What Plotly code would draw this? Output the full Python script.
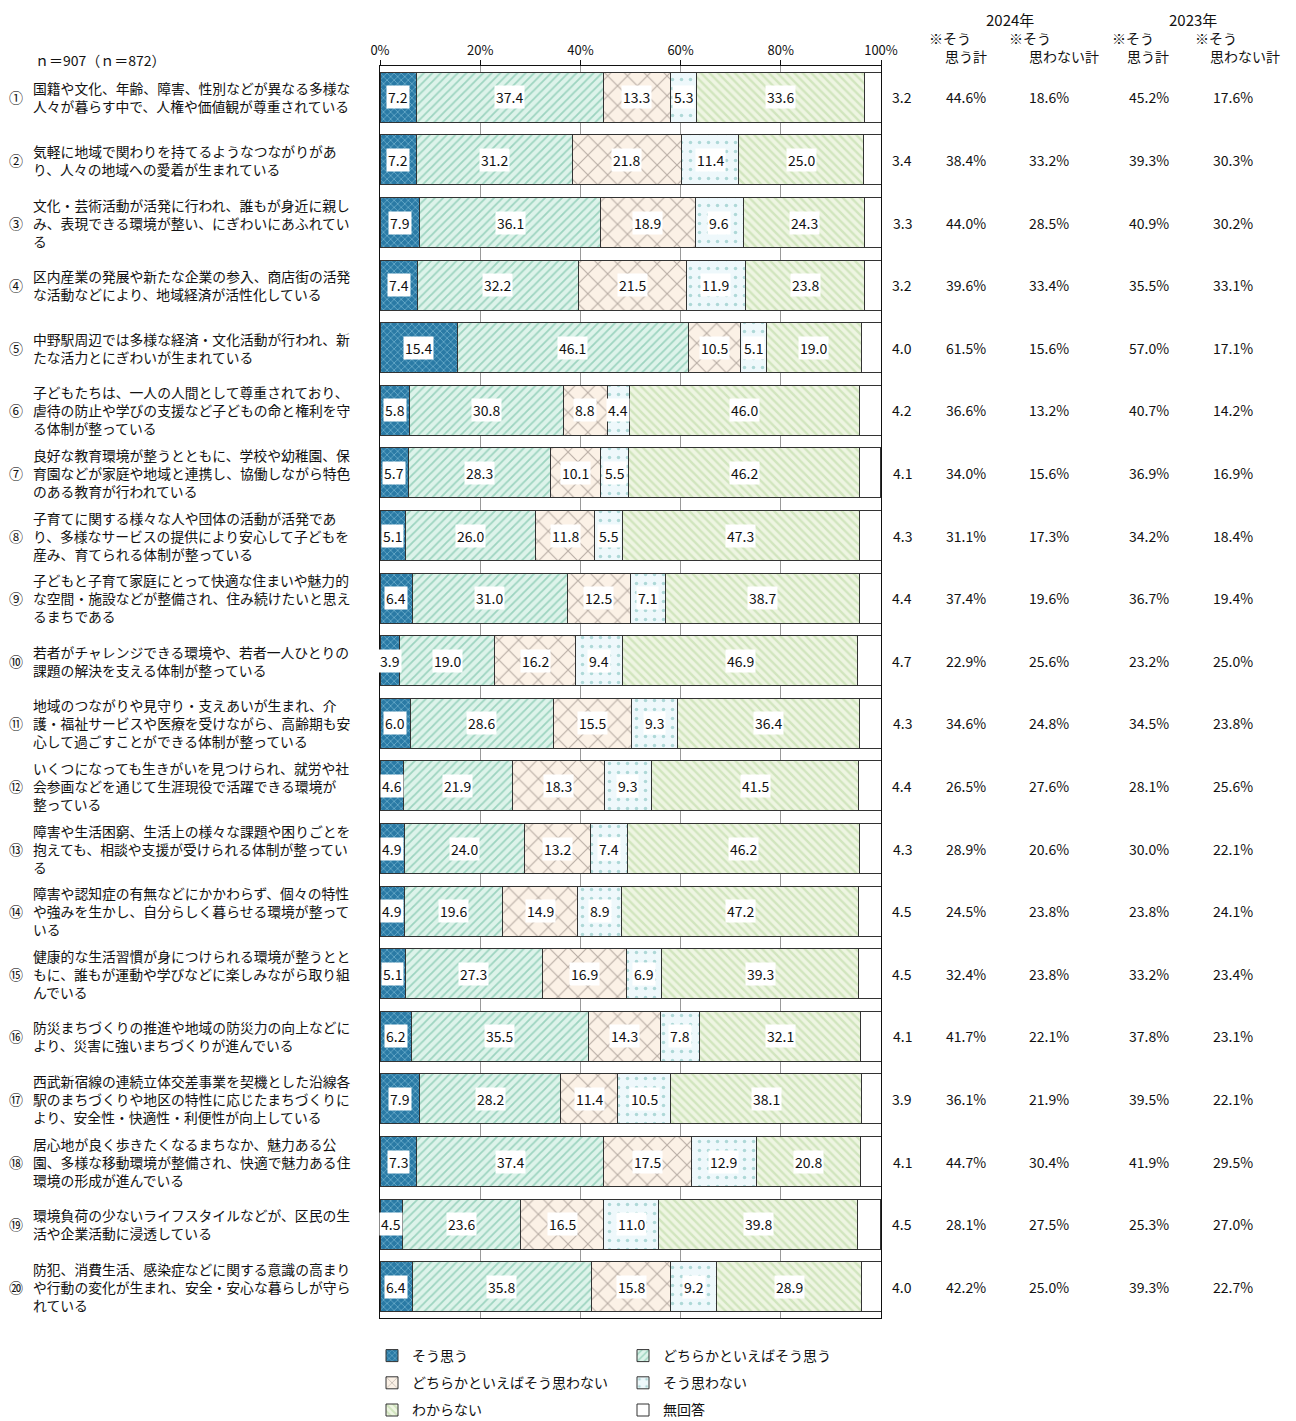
import plotly.graph_objects as go

FONT = "Noto Sans CJK JP"

item_nums = ["①", "②", "③", "④", "⑤", "⑥", "⑦", "⑧", "⑨", "⑩",
             "⑪", "⑫", "⑬", "⑭", "⑮", "⑯", "⑰", "⑱", "⑲", "⑳"]

item_texts = [
    "国籍や文化、年齢、障害、性別などが異なる多様な<br>人々が暮らす中で、人権や価値観が尊重されている",
    "気軽に地域で関わりを持てるようなつながりがあ<br>り、人々の地域への愛着が生まれている",
    "文化・芸術活動が活発に行われ、誰もが身近に親し<br>み、表現できる環境が整い、にぎわいにあふれてい<br>る",
    "区内産業の発展や新たな企業の参入、商店街の活発<br>な活動などにより、地域経済が活性化している",
    "中野駅周辺では多様な経済・文化活動が行われ、新<br>たな活力とにぎわいが生まれている",
    "子どもたちは、一人の人間として尊重されており、<br>虐待の防止や学びの支援など子どもの命と権利を守<br>る体制が整っている",
    "良好な教育環境が整うとともに、学校や幼稚園、保<br>育園などが家庭や地域と連携し、協働しながら特色<br>のある教育が行われている",
    "子育てに関する様々な人や団体の活動が活発であ<br>り、多様なサービスの提供により安心して子どもを<br>産み、育てられる体制が整っている",
    "子どもと子育て家庭にとって快適な住まいや魅力的<br>な空間・施設などが整備され、住み続けたいと思え<br>るまちである",
    "若者がチャレンジできる環境や、若者一人ひとりの<br>課題の解決を支える体制が整っている",
    "地域のつながりや見守り・支えあいが生まれ、介<br>護・福祉サービスや医療を受けながら、高齢期も安<br>心して過ごすことができる体制が整っている",
    "いくつになっても生きがいを見つけられ、就労や社<br>会参画などを通じて生涯現役で活躍できる環境が<br>整っている",
    "障害や生活困窮、生活上の様々な課題や困りごとを<br>抱えても、相談や支援が受けられる体制が整ってい<br>る",
    "障害や認知症の有無などにかかわらず、個々の特性<br>や強みを生かし、自分らしく暮らせる環境が整って<br>いる",
    "健康的な生活習慣が身につけられる環境が整うとと<br>もに、誰もが運動や学びなどに楽しみながら取り組<br>んでいる",
    "防災まちづくりの推進や地域の防災力の向上などに<br>より、災害に強いまちづくりが進んでいる",
    "西武新宿線の連続立体交差事業を契機とした沿線各<br>駅のまちづくりや地区の特性に応じたまちづくりに<br>より、安全性・快適性・利便性が向上している",
    "居心地が良く歩きたくなるまちなか、魅力ある公<br>園、多様な移動環境が整備され、快適で魅力ある住<br>環境の形成が進んでいる",
    "環境負荷の少ないライフスタイルなどが、区民の生<br>活や企業活動に浸透している",
    "防犯、消費生活、感染症などに関する意識の高まり<br>や行動の変化が生まれ、安全・安心な暮らしが守ら<br>れている",
]

series_names = ["そう思う", "どちらかといえばそう思う", "どちらかといえばそう思わない",
                "そう思わない", "わからない", "無回答"]

sou_omou = [7.2, 7.2, 7.9, 7.4, 15.4, 5.8, 5.7, 5.1, 6.4, 3.9,
            6.0, 4.6, 4.9, 4.9, 5.1, 6.2, 7.9, 7.3, 4.5, 6.4]
dochira_sou = [37.4, 31.2, 36.1, 32.2, 46.1, 30.8, 28.3, 26.0, 31.0, 19.0,
               28.6, 21.9, 24.0, 19.6, 27.3, 35.5, 28.2, 37.4, 23.6, 35.8]
dochira_not = [13.3, 21.8, 18.9, 21.5, 10.5, 8.8, 10.1, 11.8, 12.5, 16.2,
               15.5, 18.3, 13.2, 14.9, 16.9, 14.3, 11.4, 17.5, 16.5, 15.8]
sou_not = [5.3, 11.4, 9.6, 11.9, 5.1, 4.4, 5.5, 5.5, 7.1, 9.4,
           9.3, 9.3, 7.4, 8.9, 6.9, 7.8, 10.5, 12.9, 11.0, 9.2]
wakaranai = [33.6, 25.0, 24.3, 23.8, 19.0, 46.0, 46.2, 47.3, 38.7, 46.9,
             36.4, 41.5, 46.2, 47.2, 39.3, 32.1, 38.1, 20.8, 39.8, 28.9]
mukaitou = [3.2, 3.4, 3.3, 3.2, 4.0, 4.2, 4.1, 4.3, 4.4, 4.7,
            4.3, 4.4, 4.3, 4.5, 4.5, 4.1, 3.9, 4.1, 4.5, 4.0]

sou_total_2024 = [44.6, 38.4, 44.0, 39.6, 61.5, 36.6, 34.0, 31.1, 37.4, 22.9,
                  34.6, 26.5, 28.9, 24.5, 32.4, 41.7, 36.1, 44.7, 28.1, 42.2]
not_total_2024 = [18.6, 33.2, 28.5, 33.4, 15.6, 13.2, 15.6, 17.3, 19.6, 25.6,
                  24.8, 27.6, 20.6, 23.8, 23.8, 22.1, 21.9, 30.4, 27.5, 25.0]
sou_total_2023 = [45.2, 39.3, 40.9, 35.5, 57.0, 40.7, 36.9, 34.2, 36.7, 23.2,
                  34.5, 28.1, 30.0, 23.8, 33.2, 37.8, 39.5, 41.9, 25.3, 39.3]
not_total_2023 = [17.6, 30.3, 30.2, 33.1, 17.1, 14.2, 16.9, 18.4, 19.4, 25.0,
                  23.8, 25.6, 22.1, 24.1, 23.4, 23.1, 22.1, 29.5, 27.0, 22.7]

x_tick_vals = [0, 20, 40, 60, 80, 100]
x_tick_text = ["0%", "20%", "40%", "60%", "80%", "100%"]

# styles
styles = [
    dict(color="#2a7aa5", fg="#a9dcee", shape="x", size=5, solidity=0.3),
    dict(color="#ddf3ea", fg="#5db596", shape="/", size=6, solidity=0.3),
    dict(color="#fbf1e6", fg="#776b65", shape="x", size=14, solidity=0.16),
    dict(color="#eef8fb", fg="#6db8b3", shape=".", size=9, solidity=0.12),
    dict(color="#eef5e2", fg="#b4d59a", shape="\\", size=6, solidity=0.4),
    dict(color="#ffffff", fg=None, shape="", size=6, solidity=0.3),
]
legend_of = ["legend", "legend2", "legend", "legend2", "legend", "legend2"]

series_vals = [sou_omou, dochira_sou, dochira_not, sou_not, wakaranai, mukaitou]

fig = go.Figure()
for k, (name, vals, st, lg) in enumerate(zip(series_names, series_vals, styles, legend_of)):
    marker = dict(color=st["color"], line=dict(color="#333333", width=1))
    if st["shape"]:
        marker["pattern"] = dict(shape=st["shape"], fgcolor=st["fg"], size=st["size"],
                                 solidity=st["solidity"], fillmode="overlay")
    fig.add_trace(go.Bar(
        y=item_nums, x=vals, name=name, orientation="h", marker=marker,
        legend=lg, legendgroup=f"g{k}", hoverinfo="x+name",
    ))

annotations = []
# value labels inside bars (first 5 series)
for i, cat in enumerate(item_nums):
    cum = 0.0
    for s in range(5):
        v = series_vals[s][i]
        annotations.append(dict(
            x=cum + v / 2, y=cat, xref="x", yref="y", text=f"{v:.1f}",
            showarrow=False, bgcolor="white", borderpad=1, xanchor="center",
            font=dict(family=FONT, size=14, color="#111"),
        ))
        cum += v

def px_x(px):
    return (px - 380) / 501.0

def px_y(py):
    return (1318 - py) / 1252.0

for i, cat in enumerate(item_nums):
    # no-answer value
    annotations.append(dict(x=px_x(902), y=cat, xref="paper", yref="y", xanchor="center",
                            text=f"{mukaitou[i]:.1f}", showarrow=False,
                            font=dict(family=FONT, size=14, color="#111")))
    for xp, arr in [(966, sou_total_2024), (1049, not_total_2024),
                    (1149, sou_total_2023), (1233, not_total_2023)]:
        annotations.append(dict(x=px_x(xp), y=cat, xref="paper", yref="y", xanchor="center",
                                text=f"{arr[i]:.1f}%", showarrow=False,
                                font=dict(family=FONT, size=14, color="#111")))
    # left labels
    annotations.append(dict(x=px_x(16), y=cat, xref="paper", yref="y", text=cat,
                            showarrow=False, xanchor="center",
                            font=dict(family=FONT, size=14, color="#111")))
    annotations.append(dict(x=px_x(31), y=cat, xref="paper", yref="y", text=item_texts[i],
                            showarrow=False, xanchor="left", align="left",
                            font=dict(family=FONT, size=13.8, color="#111")))

# headers
hdr = [
    ("2024年", 1010, 20, "center"),
    ("2023年", 1193, 20, "center"),
    ("※そう", 927, 38, "left"), ("思う計", 943, 56, "left"),
    ("※そう", 1007, 38, "left"), ("思わない計", 1027, 56, "left"),
    ("※そう", 1110, 38, "left"), ("思う計", 1125, 56, "left"),
    ("※そう", 1193, 38, "left"), ("思わない計", 1208, 56, "left"),
    ("ｎ＝907（ｎ＝872）", 33, 60, "left"),
]
for t, xp, yp, anc in hdr:
    annotations.append(dict(x=px_x(xp), y=px_y(yp), xref="paper", yref="paper", text=t,
                            showarrow=False, xanchor=anc, yanchor="middle",
                            font=dict(family=FONT, size=15 if "年" in t else 14, color="#111")))

W, H = 1296, 1421
fig.update_layout(
    width=W, height=H,
    margin=dict(l=380, r=415, t=66, b=103, autoexpand=False),
    barmode="stack", bargap=0.2,
    paper_bgcolor="white", plot_bgcolor="white",
    font=dict(family=FONT, size=14, color="#111"),
    annotations=annotations,
    xaxis=dict(range=[0, 100], side="top", tickvals=x_tick_vals, ticktext=x_tick_text,
               ticks="outside", ticklen=5, tickcolor="#111", showline=True, mirror=True,
               linecolor="#111", linewidth=1, showgrid=True, gridcolor="#999999",
               zeroline=False, tickfont=dict(family=FONT, size=13), fixedrange=True),
    yaxis=dict(autorange="reversed", showticklabels=False, ticks="", showline=True,
               mirror=True, linecolor="#111", linewidth=1, showgrid=False, fixedrange=True),
    legend=dict(xref="container", yref="container", x=372 / W, y=1 - 1340 / H,
                xanchor="left", yanchor="top",
                orientation="v", font=dict(family=FONT, size=14), bgcolor="rgba(0,0,0,0)",
                traceorder="grouped", tracegroupgap=6),
    legend2=dict(xref="container", yref="container", x=623 / W, y=1 - 1340 / H,
                 xanchor="left", yanchor="top",
                 orientation="v", font=dict(family=FONT, size=14), bgcolor="rgba(0,0,0,0)",
                 traceorder="grouped", tracegroupgap=6),
)

fig.write_html("out.html", config={"displayModeBar": False},
               post_script="document.body.style.margin='0';")
